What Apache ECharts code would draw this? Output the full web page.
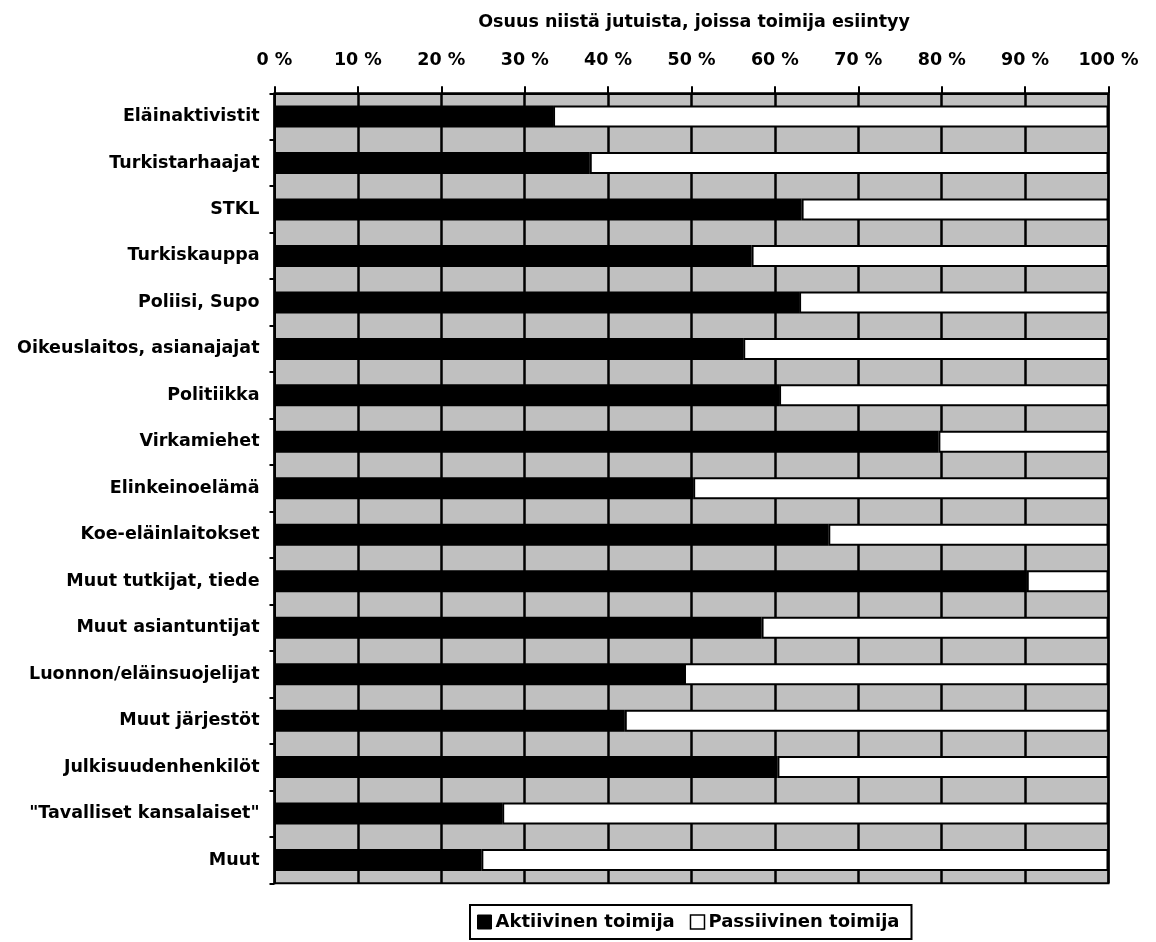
<!DOCTYPE html>
<html>
<head>
<meta charset="utf-8">
<script src="https://cdn.jsdelivr.net/npm/echarts@6/dist/echarts.min.js"></script>
<style>
  html, body { margin: 0; padding: 0; background: #fff; }
  #chart { width: 1156px; height: 942px; }
</style>
</head>
<body>
<div id="chart"></div>
<script>
var categories = [
  'Eläinaktivistit',
  'Turkistarhaajat',
  'STKL',
  'Turkiskauppa',
  'Poliisi, Supo',
  'Oikeuslaitos, asianajajat',
  'Politiikka',
  'Virkamiehet',
  'Elinkeinoelämä',
  'Koe-eläinlaitokset',
  'Muut tutkijat, tiede',
  'Muut asiantuntijat',
  'Luonnon/eläinsuojelijat',
  'Muut järjestöt',
  'Julkisuudenhenkilöt',
  '"Tavalliset kansalaiset"',
  'Muut'
];
var aktiivinen = [33.4, 37.8, 63.2, 57.2, 62.9, 56.2, 60.5, 79.6, 50.2, 66.4, 90.2, 58.4, 49.1, 42.0, 60.3, 27.3, 24.8];
var passiivinen = [66.6, 62.2, 36.8, 42.8, 37.1, 43.8, 39.5, 20.4, 49.8, 33.6, 9.8, 41.6, 50.9, 58.0, 39.7, 72.7, 75.2];
var seriesNames = ['Aktiivinen toimija', 'Passiivinen toimija'];
var axisTitle = 'Osuus niistä jutuista, joissa toimija esiintyy';

var FONT = 'DejaVu Sans';
var FS = 17.5;
var chart = echarts.init(document.getElementById('chart'), null, { renderer: 'canvas' });

chart.setOption({
  backgroundColor: '#ffffff',
  animation: false,
  title: {
    text: axisTitle,
    left: 689,
    textAlign: 'center',
    top: 8,
    textStyle: { fontFamily: FONT, fontWeight: 'bold', fontSize: FS, color: '#000' }
  },
  legend: {
    left: 470,
    top: 905,
    orient: 'horizontal',
    padding: [8, 12, 8, 7],
    itemGap: 15,
    itemWidth: 14,
    itemHeight: 14,
    borderColor: '#000',
    borderWidth: 2,
    backgroundColor: '#fff',
    textStyle: { fontFamily: FONT, fontWeight: 'bold', fontSize: 18, color: '#000', padding: [0, 0, 0, -1] },
    data: [
      { name: seriesNames[0], icon: 'rect', itemStyle: { color: '#000', borderColor: '#000', borderWidth: 1 } },
      { name: seriesNames[1], icon: 'rect', itemStyle: { color: '#fff', borderColor: '#000', borderWidth: 1.5 } }
    ]
  },
  grid: {
    left: 274.5,
    right: 47.5,
    top: 93.3,
    bottom: 58.7,
    show: true,
    backgroundColor: '#c0c0c0',
    borderColor: '#000',
    borderWidth: 2,
    containLabel: false
  },
  xAxis: {
    type: 'value',
    position: 'top',
    min: 0,
    max: 100,
    interval: 10,
    axisLine: { show: true, lineStyle: { color: '#000', width: 2 } },
    axisTick: { show: true, inside: false, length: 7, lineStyle: { color: '#000', width: 2 } },
    splitLine: { show: true, lineStyle: { color: '#000', width: 2.5 } },
    axisLabel: {
      formatter: '{value} %',
      margin: 24,
      color: '#000',
      fontFamily: FONT,
      fontWeight: 'bold',
      fontSize: FS
    }
  },
  yAxis: {
    type: 'category',
    inverse: true,
    data: categories,
    axisLine: { show: true, lineStyle: { color: '#000', width: 2 } },
    axisTick: { show: true, inside: false, length: 5, interval: 0, alignWithLabel: false, lineStyle: { color: '#000', width: 2 } },
    splitLine: { show: false },
    axisLabel: {
      margin: 15,
      interval: 0,
      color: '#000',
      fontFamily: FONT,
      fontWeight: 'bold',
      fontSize: FS
    }
  },
  series: [
    {
      name: seriesNames[0],
      type: 'bar',
      stack: 'total',
      barWidth: 22,
      data: aktiivinen,
      itemStyle: { color: '#000', borderColor: '#000', borderWidth: 1.5 }
    },
    {
      name: seriesNames[1],
      type: 'bar',
      stack: 'total',
      barWidth: 22,
      data: passiivinen,
      itemStyle: { color: '#fff', borderColor: '#000', borderWidth: 2 }
    }
  ]
});
</script>
</body>
</html>
